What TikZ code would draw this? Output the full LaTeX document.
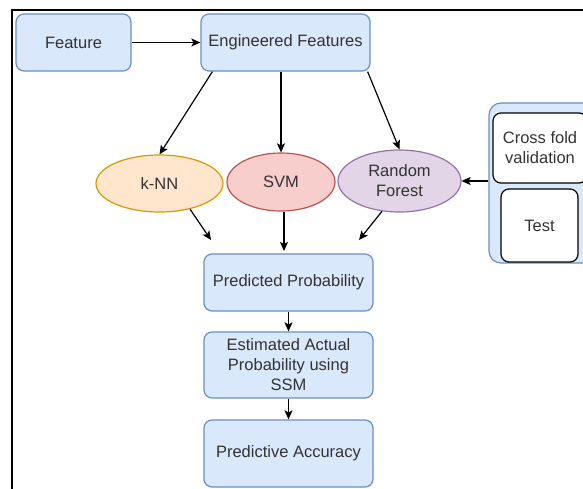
\documentclass[tikz,border=0pt]{standalone}
\usepackage{fontspec}
\setmainfont{Liberation Sans}
\usetikzlibrary{arrows.meta,shapes.geometric}
\definecolor{bfill}{HTML}{DAE8FC}
\definecolor{bline}{HTML}{6C8EBF}
\definecolor{ofill}{HTML}{FFE6CC}
\definecolor{oline}{HTML}{D79B00}
\definecolor{rfill}{HTML}{F8CECC}
\definecolor{rline}{HTML}{B85450}
\definecolor{pfill}{HTML}{E1D5E7}
\definecolor{pline}{HTML}{9673A6}
\definecolor{txt}{HTML}{333333}
\tikzset{
  box/.style={draw=bline, fill=bfill, line width=1.2pt, rounded corners=8pt, inner sep=0pt, align=center, text=txt},
  wbox/.style={draw=black, fill=white, line width=1.2pt, rounded corners=8pt, inner sep=0pt, align=center, text=txt},
  ell/.style={ellipse, line width=1.2pt, inner sep=0pt, align=center, text=txt},
  arr/.style={line width=1.2pt, -{Stealth[length=9pt,width=8pt,inset=2pt]}},
}
\begin{document}
\begin{tikzpicture}[x=1pt,y=-1pt, font=\fontsize{16.5}{20}\selectfont]
\useasboundingbox (0,0) rectangle (583,488);
\clip (0,0) rectangle (583,488);
\draw[line width=2pt] (12,490) -- (12,10) -- (585,10);

\node[box, minimum width=115pt, minimum height=57pt] (feat) at (73.5,42.5) {Feature};
\node[box, minimum width=169pt, minimum height=57pt] (eng) at (285.5,42.5) {Engineered Features};

\node[ell, draw=oline, fill=ofill, minimum width=127pt, minimum height=57pt] (knn) at (159.5,183.5) {k-NN};
\node[ell, draw=rline, fill=rfill, minimum width=108pt, minimum height=58pt] (svm) at (281,182) {SVM};
\node[ell, draw=pline, fill=pfill, minimum width=123pt, minimum height=62pt] (rf) at (399.5,181) {Random\\Forest};

\node[box, minimum width=120pt, minimum height=160pt, rounded corners=12pt] (cont) at (549,183) {};
\node[wbox, minimum width=94pt, minimum height=70pt] (cv) at (540,148) {Cross fold\\validation};
\node[wbox, minimum width=77pt, minimum height=73pt] (test) at (539.5,225.5) {Test};

\node[box, minimum width=169pt, minimum height=57pt] (pp) at (288.5,282.5) {Predicted Probability};
\node[box, minimum width=169pt, minimum height=66pt] (est) at (288.5,365) {Estimated Actual\\Probability using\\SSM};
\node[box, minimum width=169pt, minimum height=67pt] (pa) at (288.5,453.5) {Predictive Accuracy};

\coordinate (kend) at (211,240);
\coordinate (send) at (284,251);
\coordinate (rend) at (359,240);

\draw[arr] (feat.east) -- (eng.west);
\draw[arr] ([xshift=12pt]eng.south west) -- (knn.north);
\draw[arr] (svm.north |- eng.south) -- (svm.north);
\draw[arr] ([xshift=-3pt]eng.south east) -- (rf.north);
\draw[arr] (cont.west |- rf.east) -- (rf.east);
\draw[arr] (knn.-40) -- (kend);
\draw[arr] (send |- svm.south) -- (send);
\draw[arr] (rf.-120) -- (rend);
\draw[arr] (pp.south) -- (est.north);
\draw[arr] (est.south) -- (pa.north);
\end{tikzpicture}
\end{document}
